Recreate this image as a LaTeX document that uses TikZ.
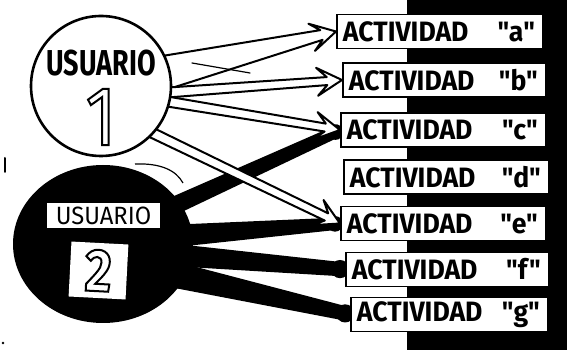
\documentclass[tikz,border=0pt]{standalone}
\usepackage{fontspec}
\usetikzlibrary{calc,shapes.geometric}
\newfontfamily\hand{Fira Sans}[FakeStretch=0.85]
\newfontfamily\handb{Fira Sans}[FakeStretch=0.95]
\newfontfamily\handc{Fira Sans}[FakeStretch=0.75]
\pgfdeclarelayer{back}
\pgfdeclarelayer{conn}
\pgfsetlayers{back,conn,main}
\newcommand\outlinetext[2]{\special{pdf:literal direct 1 Tr #1 w}#2\special{pdf:literal direct 0 Tr}}
\newcommand\hollowarrow[4]{%
  \coordinate (hs) at ($(#1)!-8pt!(#2)$);
  \coordinate (he) at (#2);
  \coordinate (hp) at ($(he)!15pt!(hs)$);
  \coordinate (hw) at ($(he)!25pt!(hs)$);
  \filldraw[warrow] ($(hs)!#3!90:(he)$) -- ($(hp)!#4!90:(he)$) -- ($(hw)!14pt!90:(he)$) -- (he)
     -- ($(hw)!14pt!-90:(he)$) -- ($(hp)!#4!-90:(he)$) -- ($(hs)!#3!-90:(he)$);
}
\newcommand\blackwedge[4]{%
  \coordinate (ws) at ($(#1)!-10pt!(#2)$);
  \coordinate (we) at (#2);
  \fill ($(ws)!#3!90:(we)$) -- ($(we)!#4!-90:(ws)$) -- ($(we)!#4!90:(ws)$) -- ($(ws)!#3!-90:(we)$) -- cycle;
  \fill ($(we)!5pt!(ws)$) circle[radius=#4*1.3];
}
\begin{document}
\begin{tikzpicture}[x=1pt,y=1pt,
  user1/.style={circle, draw=black, line width=2.6pt, fill=white, minimum size=140pt, inner sep=0pt},
  user2/.style={ellipse, fill=black, minimum width=180pt, minimum height=158pt, inner sep=0pt},
  actbox/.style={draw=black, fill=white, line width=1.8pt, minimum height=34pt, inner xsep=6pt, inner ysep=0pt, anchor=west,
     font=\handb\bfseries\fontsize{28}{30}\selectfont},
  lblbox/.style={fill=white, minimum width=113pt, minimum height=25pt, inner sep=0pt,
     font=\handb\fontsize{25}{26}\selectfont},
  numbox/.style={fill=white, minimum width=57pt, minimum height=55pt, inner sep=0pt,
     font=\hand\bfseries\fontsize{60}{60}\selectfont},
  warrow/.style={fill=white, draw=black, line width=2pt, line join=round},
  straymark/.style={line width=2pt, line cap=round}
]
\useasboundingbox (0,0) rectangle (573,350);
% users
\node[user1] (u1) at (101,264) {};
\node[font=\handc\bfseries\fontsize{36}{38}\selectfont] (u1lbl) at (101,287) {USUARIO};
\node[font=\hand\fontsize{84}{84}\selectfont] (u1num) at (101,233) {\outlinetext{2}{1}};
\node[user2] (u2) at (103,106) {};
\node[lblbox] (u2lbl) at (103.5,134.5) {USUARIO};
\node[numbox, rotate=-3] (u2num) at (98.5,79.5) {\outlinetext{2}{2}};
% activities
\node[actbox] (a) at (336,318.5) {\makebox[194pt][l]{ACTIVIDAD\hfill"a"\hspace*{2pt}}};
\node[actbox] (b) at (342,270) {\makebox[191pt][l]{ACTIVIDAD\hfill"b"\hspace*{2pt}}};
\node[actbox] (c) at (340,220) {\makebox[193pt][l]{ACTIVIDAD\hfill"c"\hspace*{2pt}}};
\node[actbox] (d) at (343,173) {\makebox[193pt][l]{ACTIVIDAD\hfill"d"\hspace*{2pt}}};
\node[actbox] (e) at (340,126.5) {\makebox[193pt][l]{ACTIVIDAD\hfill"e"\hspace*{2pt}}};
\node[actbox] (f) at (345,80.5) {\makebox[191pt][l]{ACTIVIDAD\hfill"f"\hspace*{2pt}}};
\node[actbox] (g) at (350,35.5) {\makebox[185pt][l]{ACTIVIDAD\hfill"g"\hspace*{2pt}}};
\begin{pgfonlayer}{back}
  \fill[white] (0,0) rectangle (573,350);
  \fill[black] (407,0) rectangle (567,350);
\end{pgfonlayer}
\begin{pgfonlayer}{conn}
  \blackwedge{u2.28}{c.west}{9pt}{6pt}
  \blackwedge{u2.6}{e.west}{11pt}{6pt}
  \blackwedge{u2.-8}{f.west}{11pt}{7pt}
  \blackwedge{u2.-22}{g.west}{13pt}{7pt}
  \hollowarrow{u1.12}{a.west}{17pt}{5pt}
  \hollowarrow{u1.-5}{b.west}{5pt}{4pt}
  \hollowarrow{u1.-13}{c.west}{5pt}{4pt}
  \hollowarrow{u1.-42}{e.west}{5pt}{4pt}
  \draw[line width=1.2pt, line cap=round] (192,287) -- (250,277);
\end{pgfonlayer}
% stray marks
\draw[straymark] (5,192) -- (5,178);
\fill (3,7) circle (1.3);
\draw[line width=1.2pt] (135,186) .. controls (160,187) and (176,180) .. (183,167);
\end{tikzpicture}
\end{document}
